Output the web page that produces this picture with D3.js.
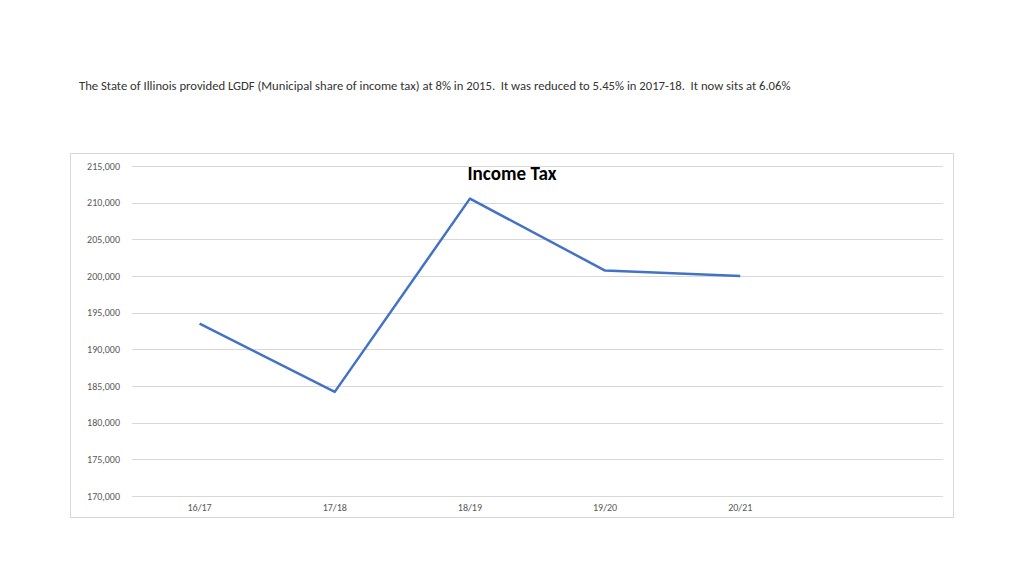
<!DOCTYPE html>
<html><head><meta charset="utf-8">
<script src="https://cdn.jsdelivr.net/npm/d3@7"></script>
<style>body{margin:0;background:#fff;} svg{display:block;}</style>
</head><body>
<svg id="c" width="1024" height="576"></svg>
<script>
const categories = ["16/17","17/18","18/19","19/20","20/21",""];
const values = [193500, 184200, 210550, 200740, 200000];
const yTicks = [170000,175000,180000,185000,190000,195000,200000,205000,210000,215000];
const headline = "The State of Illinois provided LGDF (Municipal share of income tax) at 8% in 2015.  It was reduced to 5.45% in 2017-18.  It now sits at 6.06%";
const chartTitle = "Income Tax";

const svg = d3.select("#c");
const font = "Carlito, Calibri, 'Liberation Sans Narrow', 'Open Sans', sans-serif";

function fitText(sel, target){
  const w = sel.node().getComputedTextLength();
  const fs = parseFloat(sel.attr("font-size"));
  sel.attr("font-size", fs * target / w);
}

const hl = svg.append("text").attr("x",79).attr("y",90).attr("font-family",font)
  .attr("font-size",12).attr("fill","#333").style("white-space","pre").attr("xml:space","preserve").text(headline);
fitText(hl, 712);

svg.append("rect").attr("x",70.5).attr("y",153.5).attr("width",883).attr("height",364)
  .attr("fill","#fff").attr("stroke","#d9d9d9").attr("stroke-width",1);

const x = d3.scaleBand().domain(categories).range([132,943]);
const y = d3.scaleLinear().domain([170000,215000]).range([496,166]);

const g = svg.append("g");
g.selectAll("line.grid").data(yTicks).join("line").attr("class","grid")
  .attr("x1",132).attr("x2",943).attr("y1",d=>Math.round(y(d))+0.5).attr("y2",d=>Math.round(y(d))+0.5)
  .attr("stroke","#d9d9d9").attr("stroke-width",1);

const yAxis = svg.append("g").attr("transform","translate(120,0)")
  .call(d3.axisLeft(y).tickValues(yTicks).tickSize(0).tickPadding(0).tickFormat(d3.format(",")));
yAxis.select(".domain").remove();
yAxis.selectAll("text").attr("font-family",font).attr("font-size",10).attr("fill","#595959");

const xAxis = svg.append("g").attr("transform","translate(0,496)")
  .call(d3.axisBottom(x).tickSize(0).tickPadding(8));
xAxis.select(".domain").remove();
xAxis.selectAll("text").attr("font-family",font).attr("font-size",10).attr("fill","#595959");

const line = d3.line().x((d,i)=>x(categories[i])+x.bandwidth()/2).y(d=>y(d));
svg.append("path").datum(values).attr("d",line).attr("fill","none")
  .attr("stroke","#4472c4").attr("stroke-width",2.5).attr("stroke-linejoin","round");

const t = svg.append("text").attr("x",512).attr("y",180).attr("text-anchor","middle")
  .attr("font-family",font).attr("font-weight","bold").attr("font-size",17).attr("fill","#000").text(chartTitle);
fitText(t, 89);
</script>
</body></html>
